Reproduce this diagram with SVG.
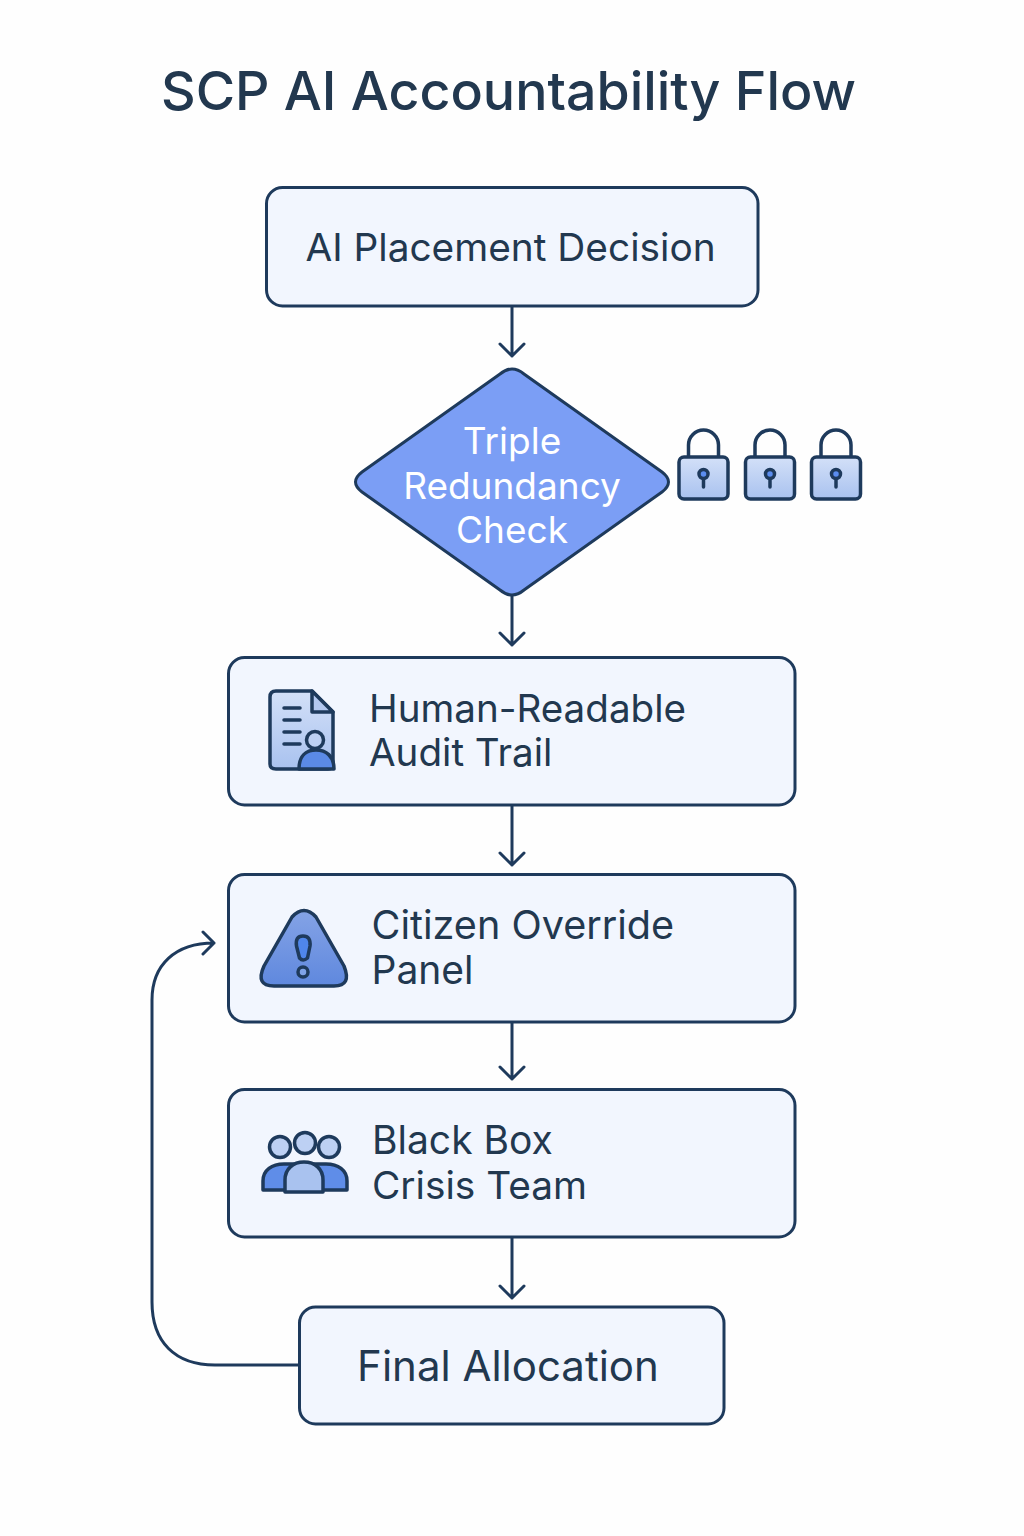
<svg xmlns="http://www.w3.org/2000/svg" width="1024" height="1536" viewBox="0 0 1024 1536">
<defs>
<linearGradient id="lg" x1="0" y1="0" x2="0" y2="1"><stop offset="0" stop-color="#d3e0f8"/><stop offset="1" stop-color="#a9c2ef"/></linearGradient>
<linearGradient id="tri" x1="0" y1="0" x2="0" y2="1"><stop offset="0" stop-color="#84a3e6"/><stop offset="1" stop-color="#5f88de"/></linearGradient>
<g id="lock">
<path d="M-15 -21V-33A15 15 0 0 1 15 -33V-21" fill="none" stroke="#1e3a5c" stroke-width="3.500"/>
<rect x="-24.500" y="-21" width="49" height="42" rx="5" fill="url(#lg)" stroke="#1e3a5c" stroke-width="3.500"/>
<line x1="0" y1="-2" x2="0" y2="9" stroke="#1e3a5c" stroke-width="3.500" stroke-linecap="round"/>
<circle cx="0" cy="-4" r="4.500" fill="#5b8def" stroke="#1e3a5c" stroke-width="3.500"/>
</g>
</defs>
<style>
.box{fill:#f2f6fe;stroke:#1e3a5c;stroke-width:3}
.t{font-family:"Inter","Liberation Sans",sans-serif;font-size:39px;fill:#22384f}
.w{fill:#fff;text-anchor:middle;font-size:37px}
.c{fill:none;stroke:#1e3a5c;stroke-width:3;stroke-linecap:round;stroke-linejoin:round}
.i{stroke:#1e3a5c;stroke-width:3.500;stroke-linejoin:round;stroke-linecap:round}
</style>
<rect width="1024" height="1536" fill="#fefefe"/>
<text id="title" x="508.500" y="110" text-anchor="middle" style="font-family:'Inter','Liberation Sans',sans-serif;font-size:53.700px;font-weight:500;fill:#22384f">SCP AI Accountability Flow</text>
<g id="connectors">
<path class="c" d="M512 307V356M500 344L512 356L524 344"/>
<path class="c" d="M512 596V645M500 633L512 645L524 633"/>
<path class="c" d="M512 805V865M500 853L512 865L524 853"/>
<path class="c" d="M512 1023V1079M500 1067L512 1079L524 1067"/>
<path class="c" d="M512 1237V1298M500 1286L512 1298L524 1286"/>
<path class="c" d="M299 1365H215C175 1365 152 1342 152 1302V1000C152 965 175 943 214 943M203 932L214 943L203 954"/>
</g>
<g id="node-placement"><rect class="box" x="266.500" y="187.500" width="491.500" height="118.500" rx="16"/><text class="t" x="510.500" y="261" text-anchor="middle" style="font-size:38.800px">AI Placement Decision</text></g>
<g id="node-check">
<path d="M500 374Q512 364 524 374L662 472Q675 482 662 492L524 590Q512 600 500 590L362 492Q349 482 362 472Z" fill="#7b9ef5" stroke="#1e3a5c" stroke-width="3"/>
<text class="t w" x="512" y="454">Triple</text><text class="t w" x="512" y="499">Redundancy</text><text class="t w" x="512" y="543">Check</text>
</g>
<g id="locks"><use href="#lock" x="703.500" y="478"/><use href="#lock" x="770" y="478"/><use href="#lock" x="836" y="478"/></g>
<g id="node-audit"><rect class="box" x="228.500" y="657.500" width="566.500" height="147.500" rx="16"/>
<path class="i" d="M276 691H312L333 712V764Q333 769 328 769H276Q270 769 270 764V697Q270 691 276 691Z" fill="url(#lg)"/>
<path class="i" d="M312 691V712H333Z" fill="#b3c8f0"/>
<path class="i" fill="none" d="M284 708H300M284 720H300M284 732H300M284 744H300"/>
<circle class="i" cx="315" cy="740" r="8.500" fill="#bdd0f3"/>
<path class="i" d="M299 769C299 756 306 750 316 750C326 750 334 756 334 769Z" fill="#5b8ae6"/>
<text class="t" x="369" y="722" style="font-size:38.600px">Human-Readable</text><text class="t" x="369" y="766" style="font-size:38.600px">Audit Trail</text></g>
<g id="node-override"><rect class="box" x="228.500" y="874.500" width="566.500" height="147.500" rx="16"/>
<path class="i" d="M292 917Q304 904 316 917L344 966Q352 986 334 986H274Q255 986 264 966Z" fill="url(#tri)"/>
<path class="i" d="M303 936Q311 936 310 946L307.500 958Q303 962 299.500 958L296.500 946Q295 936 303 936Z" fill="#4f86ea"/>
<circle class="i" cx="303" cy="972" r="5" fill="#7fa3e8"/>
<text class="t" x="371.500" y="939" style="font-size:39.600px">Citizen Override</text><text class="t" x="371.500" y="984">Panel</text></g>
<g id="node-crisis"><rect class="box" x="228.500" y="1089.500" width="566.500" height="147.500" rx="16"/>
<circle class="i" cx="280" cy="1147" r="10.500" fill="#bdd0f3"/><circle class="i" cx="305" cy="1143" r="10.500" fill="#bdd0f3"/><circle class="i" cx="329" cy="1147" r="10.500" fill="#bdd0f3"/>
<path class="i" d="M263 1190V1181C263 1170 272 1164 284 1164H326C338 1164 347 1170 347 1181V1190Z" fill="#5f8de8"/>
<path class="i" d="M285 1192V1180C285 1169 293 1162 304 1162C315 1162 323 1169 323 1180V1192Z" fill="#a9c2ef"/>
<text class="t" x="372" y="1154">Black Box</text><text class="t" x="372" y="1199" style="font-size:38.800px">Crisis Team</text></g>
<g id="node-final"><rect class="box" x="299.500" y="1307" width="424.500" height="117" rx="16"/><text class="t" x="508" y="1381" text-anchor="middle" style="font-size:42px">Final Allocation</text></g>
</svg>
